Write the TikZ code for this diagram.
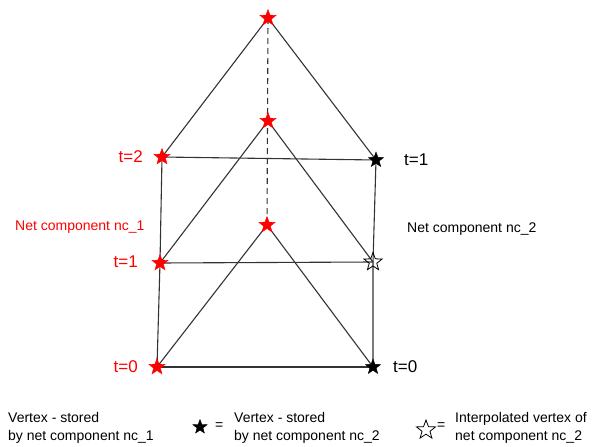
\documentclass[tikz,border=0pt]{standalone}
\usepackage{fontspec}
\setmainfont{Liberation Sans}
\usetikzlibrary{shapes.geometric}
\begin{document}
\begin{tikzpicture}[x=1pt,y=-1pt,
  edge/.style={draw=black!80,line width=1.1pt},
  vstar/.style={star,star points=5,star point ratio=2.4,minimum size=17pt,inner sep=0pt},
  redstar/.style={vstar,fill=red,draw=red},
  blackstar/.style={vstar,fill=black,draw=black},
  hollowstar/.style={vstar,draw=black,line width=0.8pt,fill=none},
  lbl/.style={font=\fontsize{17}{19}\selectfont,inner sep=0pt},
  redlbl/.style={lbl,text=red},
  nclbl/.style={font=\fontsize{14}{16}\selectfont,inner sep=0pt,anchor=west},
  legend/.style={font=\fontsize{14}{18}\selectfont,align=left,inner sep=0pt,anchor=west}]
\useasboundingbox (0,0) rectangle (603,447);
% vertex coordinates
\coordinate (top) at (268,18);
\coordinate (mid) at (268,121);
\coordinate (low) at (267,225);
\coordinate (L2) at (162,157);
\coordinate (R2) at (376,160);
\coordinate (L1) at (160,263);
\coordinate (R1) at (373,262);
\coordinate (L0) at (157,367);
\coordinate (R0) at (373,367);
% edges
\draw[edge] (top) -- (L2);
\draw[edge] (top) -- (R2);
\draw[edge,dashed,dash pattern=on 6pt off 4pt] (top) -- (low);
\draw[edge] (mid) -- (L1);
\draw[edge] (mid) -- (R1);
\draw[edge] (low) -- (L0);
\draw[edge] (low) -- (R0);
\draw[edge] (L2) -- (R2);
\draw[edge] (L1) -- (R1);
\draw[edge] (L0) -- (R0);
\draw[edge] (L2) -- (L1) -- (L0);
\draw[edge] (R2) -- (R1) -- (R0);
% stars
\node[redstar] (stop) at (top) {};
\node[redstar] (smid) at (mid) {};
\node[redstar] (slow) at (low) {};
\node[redstar] (sL2) at (L2) {};
\node[redstar] (sL1) at (L1) {};
\node[redstar] (sL0) at (L0) {};
\node[blackstar,minimum size=16pt] (sR2) at (R2) {};
\node[blackstar,minimum size=16pt] (sR0) at (R0) {};
\node[hollowstar,minimum size=19pt] (sR1) at (R1) {};
% labels
\node[redlbl,anchor=east] (tL2) at (143,157) {t=2};
\node[redlbl,anchor=east] (tL1) at (138,262) {t=1};
\node[redlbl,anchor=east] (tL0) at (138,367) {t=0};
\node[lbl,anchor=west] (tR2) at (404,160) {t=1};
\node[lbl,anchor=west] (tR0) at (393,367) {t=0};
\node[nclbl,text=red] (nc1) at (15,227) {Net component nc\_1};
\node[nclbl] (nc2) at (407,229) {Net component nc\_2};
% legend
\node[legend] (leg1) at (8,428) {Vertex - stored\\by net component nc\_1};
\node[blackstar,minimum size=15pt] (lstar2) at (200,427) {};
\node[legend] (eq2) at (215,426) {=};
\node[legend] (leg2) at (234,428) {Vertex - stored\\by net component nc\_2};
\node[hollowstar,minimum size=20pt] (lstar3) at (426,430) {};
\node[legend] (eq3) at (437,426) {=};
\node[legend] (leg3) at (455,428) {Interpolated vertex of\\net component nc\_2};
\end{tikzpicture}
\end{document}
